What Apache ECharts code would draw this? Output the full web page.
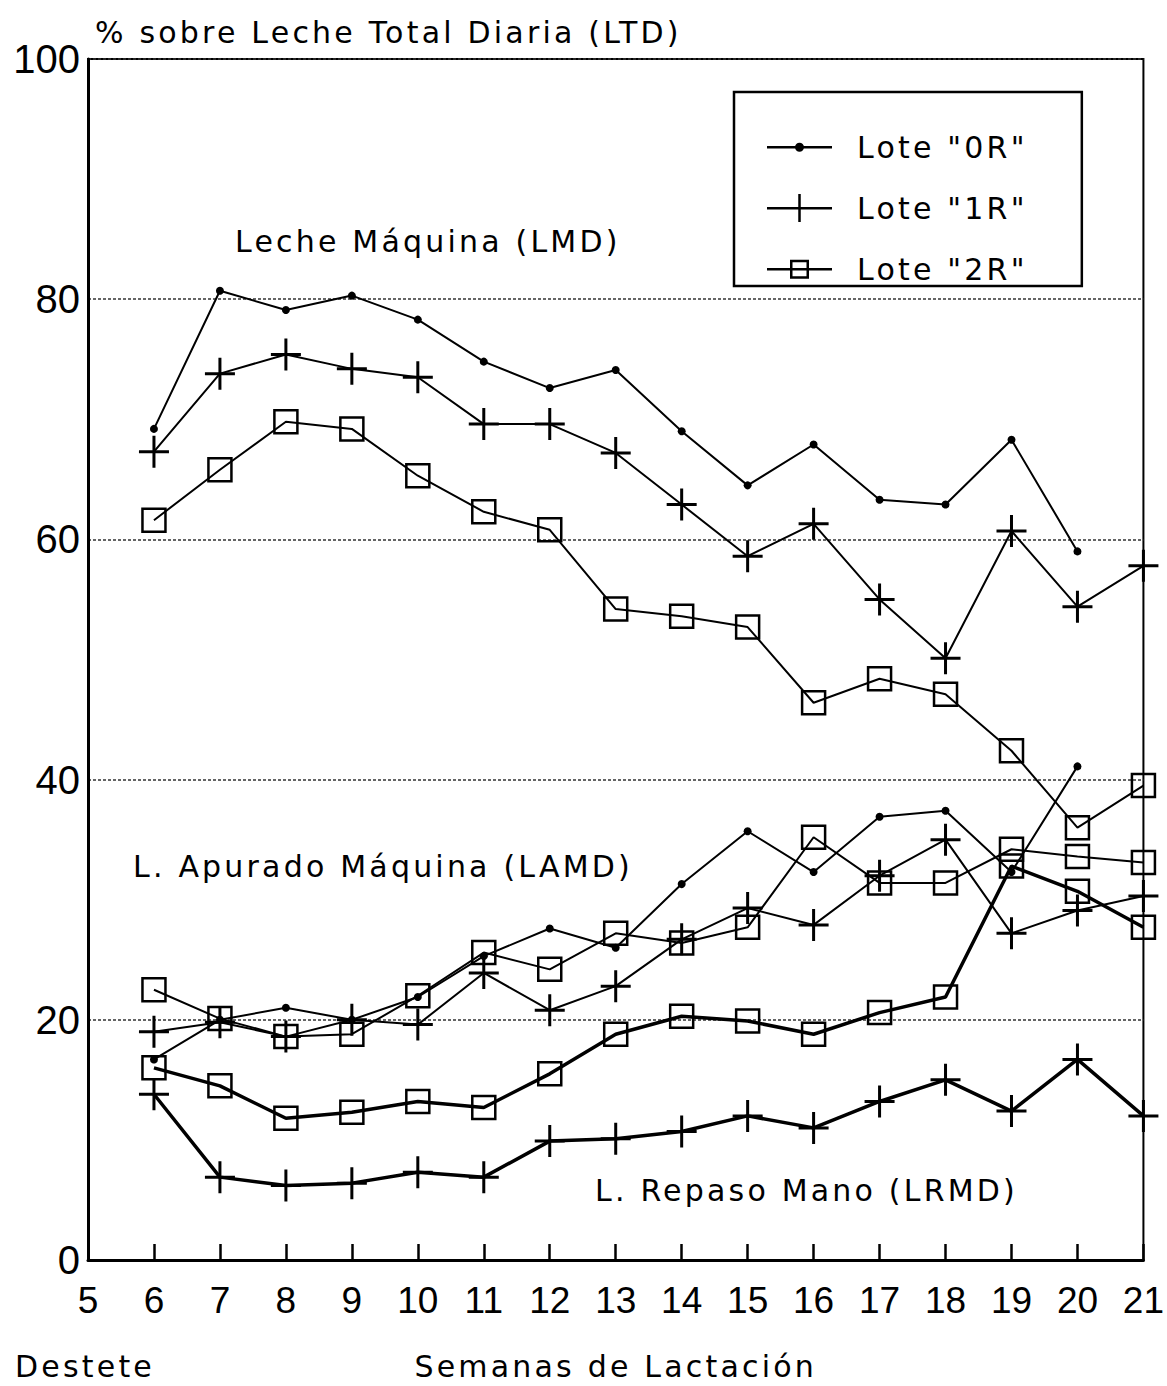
<!DOCTYPE html>
<html>
<head>
<meta charset="utf-8">
<title>Fracciones de leche por lote</title>
<script src="https://cdn.jsdelivr.net/npm/echarts@6/dist/echarts.min.js"></script>
<style>
  html, body { margin: 0; padding: 0; background: #fff; }
  #chart { width: 1167px; height: 1386px; }
  /* the lettering of the captions is set wide */
  #chart text[style*="DejaVu"] { letter-spacing: 3.2px; }
</style>
</head>
<body>
<div id="chart"></div>
<script>
// Semanas de lactación (eje X) y escala del eje Y
const weeks = [6, 7, 8, 9, 10, 11, 12, 13, 14, 15, 16, 17, 18, 19, 20, 21];
const xTicks = [5, 21, 1];      // min, max, paso
const yTicks = [0, 100, 20];    // min, max, paso

// Leche Máquina (LMD), % sobre LTD
const lmd0R = [69.2, 80.7, 79.1, 80.3, 78.3, 74.8, 72.6, 74.1, 69.0, 64.5, 67.9, 63.3, 62.9, 68.3, 59.0, null];
const lmd1R = [67.3, 73.8, 75.4, 74.2, 73.5, 69.6, 69.6, 67.2, 62.9, 58.6, 61.3, 55.0, 50.1, 60.7, 54.4, 57.8];
const lmd2R = [61.6, 65.8, 69.8, 69.2, 65.3, 62.3, 60.8, 54.2, 53.6, 52.7, 46.4, 48.4, 47.1, 42.4, 36.0, 39.5];

// Leche de Apurado Máquina (LAMD)
const lamd0R = [16.7, 20.0, 21.0, 20.0, 21.9, 25.3, 27.6, 26.0, 31.3, 35.7, 32.3, 36.9, 37.4, 32.3, 41.1, null];
const lamd1R = [19.0, 19.8, 18.6, 20.0, 19.6, 23.9, 20.8, 22.8, 26.7, 29.3, 27.9, 32.0, 35.0, 27.2, 29.1, 30.3];
const lamd2R = [22.5, 20.1, 18.6, 18.8, 22.0, 25.6, 24.2, 27.2, 26.4, 27.7, 35.2, 31.4, 31.4, 34.2, 33.6, 33.1];

// Leche de Repaso a Mano (LRMD)
const lrmd1R = [13.8, 6.9, 6.2, 6.4, 7.3, 6.9, 9.9, 10.1, 10.7, 12.0, 11.0, 13.2, 15.0, 12.4, 16.7, 12.0];
const lrmd2R = [16.0, 14.5, 11.8, 12.3, 13.2, 12.7, 15.5, 18.8, 20.3, 19.9, 18.8, 20.6, 21.9, 32.8, 30.7, 27.7];

const lotes = ['Lote "0R"', 'Lote "1R"', 'Lote "2R"'];

const FONT_TEXT = 'DejaVu Sans';
const FONT_NUM = 'Liberation Sans';
const INK = '#000';

// marker shapes
const PLUS = 'path://M0,14.5 L30,14.5 L30,17.5 L0,17.5 Z M13.5,0 L16.5,0 L16.5,32 L13.5,32 Z';
const markers = {
  dot:    { symbol: 'circle', symbolSize: 8, itemStyle: { color: INK } },
  plus:   { symbol: PLUS, symbolSize: [30, 32], itemStyle: { color: INK } },
  square: { symbol: 'rect', symbolSize: 23,
            itemStyle: { color: 'rgba(0,0,0,0)', borderColor: INK, borderWidth: 2.5 } }
};

// legend icons: short line with the lot marker, 85x30 box (icon + gap before the text)
const BOX = 'M0,0 L0.01,0 L0.01,0.01 Z M85,30 L84.99,30 L84.99,29.99 Z ';
const LINE = 'M0,14 L65,14 L65,16.5 L0,16.5 Z ';
const legendIcons = [
  'path://' + BOX + LINE + 'M28,15.25 A4.5,4.5 0 1,1 37,15.25 A4.5,4.5 0 1,1 28,15.25 Z',
  'path://' + BOX + LINE + 'M31.25,1 L33.75,1 L33.75,29 L31.25,29 Z',
  'path://' + BOX + LINE + 'M23,5.75 L42,5.75 L42,24.75 L23,24.75 Z M25.5,8.25 L25.5,22.25 L39.5,22.25 L39.5,8.25 Z'
];

function points(values) {
  const out = [];
  weeks.forEach((w, i) => { if (values[i] != null) out.push([w, values[i]]); });
  return out;
}

function lineSeries(lote, values, marker, width) {
  const m = markers[marker];
  return {
    type: 'line',
    name: lotes[lote],
    data: points(values),
    symbol: m.symbol,
    symbolSize: m.symbolSize,
    itemStyle: m.itemStyle,
    lineStyle: { color: INK, width: width },
    clip: false,
    silent: true,
    emphasis: { disabled: true }
  };
}

const captionStyle = { fontFamily: FONT_TEXT, fontSize: 30, fill: INK, verticalAlign: 'middle' };
function caption(text, x, y) {
  return { type: 'text', x: x, y: y, silent: true, style: Object.assign({ text: text }, captionStyle) };
}

const chart = echarts.init(document.getElementById('chart'), null, { renderer: 'svg' });

chart.setOption({
  animation: false,
  backgroundColor: '#fff',
  title: {
    text: '% sobre Leche Total Diaria (LTD)',
    left: 90, top: 12,
    textStyle: { fontFamily: FONT_TEXT, fontSize: 30, fontWeight: 'normal', color: INK }
  },
  grid: {
    left: 88, right: 21, top: 59, bottom: 121,
    show: true, borderColor: INK, borderWidth: 2
  },
  xAxis: {
    type: 'value', min: xTicks[0], max: xTicks[1], interval: xTicks[2],
    axisLine: { show: true, onZero: false, lineStyle: { color: INK, width: 3 } },
    axisTick: { show: true, inside: true, length: 16, lineStyle: { color: INK, width: 2.5 } },
    axisLabel: { fontFamily: FONT_NUM, fontSize: 37, color: INK, margin: 22 },
    splitLine: { show: false },
    name: 'Semanas de Lactación',
    nameLocation: 'middle', nameGap: 91,
    nameTextStyle: { fontFamily: FONT_TEXT, fontSize: 30, color: INK }
  },
  yAxis: {
    type: 'value', min: yTicks[0], max: yTicks[1], interval: yTicks[2],
    axisLine: { show: true, lineStyle: { color: INK, width: 3 } },
    axisTick: { show: false },
    axisLabel: { fontFamily: FONT_NUM, fontSize: 40, color: INK, margin: 8 },
    splitLine: { show: true, lineStyle: { type: [3, 2], color: '#333', width: 1.5 } }
  },
  legend: {
    orient: 'vertical',
    left: 734, top: 92,
    itemWidth: 85, itemHeight: 30, itemGap: 31,
    padding: [40, 83, 2, 33],
    backgroundColor: '#fff', borderColor: INK, borderWidth: 2.5, borderRadius: 0,
    selectedMode: false,
    textStyle: { fontFamily: FONT_TEXT, fontSize: 30, color: INK },
    data: lotes.map((name, i) => ({
      name: name,
      icon: legendIcons[i],
      itemStyle: { color: INK, borderWidth: 0 }
    }))
  },
  graphic: [
    caption('Leche Máquina (LMD)', 235, 241),
    caption('L. Apurado Máquina (LAMD)', 133, 866),
    caption('L. Repaso Mano (LRMD)', 595, 1190),
    caption('Destete', 15, 1366)
  ],
  series: [
    lineSeries(0, lmd0R, 'dot', 2),
    lineSeries(1, lmd1R, 'plus', 2),
    lineSeries(2, lmd2R, 'square', 2),
    lineSeries(0, lamd0R, 'dot', 2),
    lineSeries(1, lamd1R, 'plus', 2),
    lineSeries(2, lamd2R, 'square', 2),
    lineSeries(1, lrmd1R, 'plus', 3.5),
    lineSeries(2, lrmd2R, 'square', 3.5)
  ]
});
</script>
</body>
</html>
